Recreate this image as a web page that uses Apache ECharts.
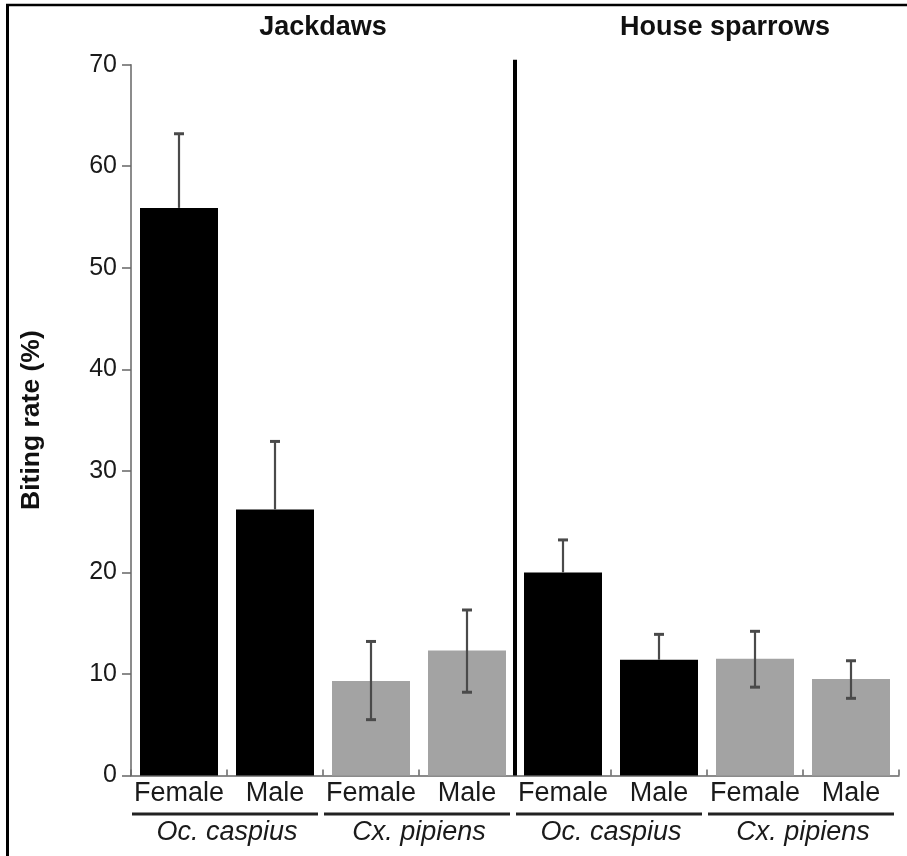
<!DOCTYPE html>
<html><head><meta charset="utf-8">
<script src="https://cdn.jsdelivr.net/npm/echarts@6/dist/echarts.min.js"></script>
<style>html,body{margin:0;padding:0;background:#fff}#c{width:907px;height:856px}</style>
</head><body><div id="c"></div>
<script>
// ---- data ----
const categories = ['Female', 'Male', 'Female', 'Male', 'Female', 'Male', 'Female', 'Male'];
const species = ['Oc. caspius', 'Cx. pipiens', 'Oc. caspius', 'Cx. pipiens'];
const hosts = ['Jackdaws', 'House sparrows'];
const bitingRate = [55.9, 26.2, 9.3, 12.3, 20.0, 11.4, 11.5, 9.5];
const errHigh = [63.2, 32.9, 13.2, 16.3, 23.2, 13.9, 14.2, 11.3];
const errLow = [55.9, 26.2, 5.5, 8.2, 20.0, 11.4, 8.7, 7.6];
const yMin = 0, yMax = 70, yStep = 10;

// ---- styles ----
const FONT = 'Liberation Sans, Arial, Helvetica, sans-serif';
const BLACK = '#000000', GRAY = '#a3a3a3';
const speciesColor = s => s.startsWith('Oc.') ? BLACK : GRAY;

const chart = echarts.init(document.getElementById('c'), null, {renderer: 'canvas'});

const barData = bitingRate.map((v, i) => ({
  value: v,
  itemStyle: {color: speciesColor(species[Math.floor(i / 2)])}
}));
const errData = bitingRate.map((v, i) => [i, errLow[i], errHigh[i], v]);

const option = {
  animation: false,
  backgroundColor: '#fff',
  grid: {left: 131, right: 8, top: 64.7, bottom: 80.5},
  xAxis: {
    type: 'category',
    data: categories,
    boundaryGap: true,
    axisLine: {lineStyle: {color: '#666', width: 1.5}},
    axisTick: {show: true, inside: true, length: 6, lineStyle: {color: '#666', width: 1.5}},
    axisLabel: {color: '#1a1a1a', fontFamily: FONT, fontSize: 27, margin: 5, interval: 0}
  },
  yAxis: {
    type: 'value',
    min: yMin, max: yMax, interval: yStep,
    name: 'Biting rate (%)',
    nameLocation: 'middle',
    nameGap: 86,
    nameTextStyle: {color: '#111', fontFamily: FONT, fontSize: 26.5, fontWeight: 'bold'},
    axisLine: {show: true, lineStyle: {color: '#666', width: 1.5}},
    axisTick: {show: true, length: 9, lineStyle: {color: '#666', width: 1.5}},
    axisLabel: {color: '#1a1a1a', fontFamily: FONT, fontSize: 25, margin: 14},
    splitLine: {show: false}
  },
  series: [
    {
      type: 'bar',
      data: barData,
      barWidth: 78,
      z: 2
    },
    {
      type: 'custom',
      z: 3,
      data: errData,
      renderItem: function (params, api) {
        const x = api.value(0);
        const lowV = api.value(1), highV = api.value(2), barV = api.value(3);
        const lo = api.coord([x, lowV]);
        const hi = api.coord([x, highV]);
        const top = api.coord([x, barV]);
        const half = 5;
        const stroke = '#4a4a4a';
        const children = [];
        const showLow = lowV < barV;
        children.push({type: 'line', shape: {x1: hi[0], y1: hi[1], x2: hi[0], y2: showLow ? lo[1] : top[1]}, style: {stroke: stroke, lineWidth: 2.2}});
        children.push({type: 'line', shape: {x1: hi[0] - half, y1: hi[1], x2: hi[0] + half, y2: hi[1]}, style: {stroke: stroke, lineWidth: 3}});
        if (showLow) {
          children.push({type: 'line', shape: {x1: lo[0] - half, y1: lo[1], x2: lo[0] + half, y2: lo[1]}, style: {stroke: stroke, lineWidth: 3}});
        }
        return {type: 'group', children: children};
      }
    }
  ]
};
chart.setOption(option);

// ---- annotations computed from axes ----
const c0 = chart.convertToPixel({xAxisIndex: 0}, 0);
const c1 = chart.convertToPixel({xAxisIndex: 0}, 1);
const bw = c1 - c0;
const leftEdge = i => chart.convertToPixel({xAxisIndex: 0}, i) - bw / 2;
const yTop = chart.convertToPixel({yAxisIndex: 0}, yMax);
const yZero = chart.convertToPixel({yAxisIndex: 0}, yMin);

const graphics = [];
// outer frame (left and top)
graphics.push({type: 'line', shape: {x1: 7.5, y1: 5, x2: 7.5, y2: 856}, style: {stroke: '#000', lineWidth: 3}});
graphics.push({type: 'line', shape: {x1: 6, y1: 5, x2: 907, y2: 5}, style: {stroke: '#000', lineWidth: 2.5}});

// divider between hosts
const divX = leftEdge(4);
graphics.push({type: 'line', z: 10, shape: {x1: divX, y1: yTop - 5, x2: divX, y2: yZero}, style: {stroke: '#000', lineWidth: 4}});

// host titles
const hostTitleX = [leftEdge(2), leftEdge(6) + 18];
hosts.forEach((h, k) => {
  graphics.push({type: 'text', style: {text: h, x: hostTitleX[k], y: 28, textAlign: 'center', textVerticalAlign: 'middle',
    font: 'bold 27px ' + FONT, fill: '#111'}});
});

// species underlines and labels
species.forEach((s, k) => {
  const l = leftEdge(2 * k), r = leftEdge(2 * k + 2);
  graphics.push({type: 'line', shape: {x1: l + 1, y1: 814, x2: r - 5, y2: 814}, style: {stroke: '#222', lineWidth: 3}});
  graphics.push({type: 'text', style: {text: s, x: (l + r) / 2, y: 832, textAlign: 'center', textVerticalAlign: 'middle',
    font: 'italic 27px ' + FONT, fill: '#1a1a1a'}});
});

chart.setOption({graphic: graphics});
</script>
</body></html>
